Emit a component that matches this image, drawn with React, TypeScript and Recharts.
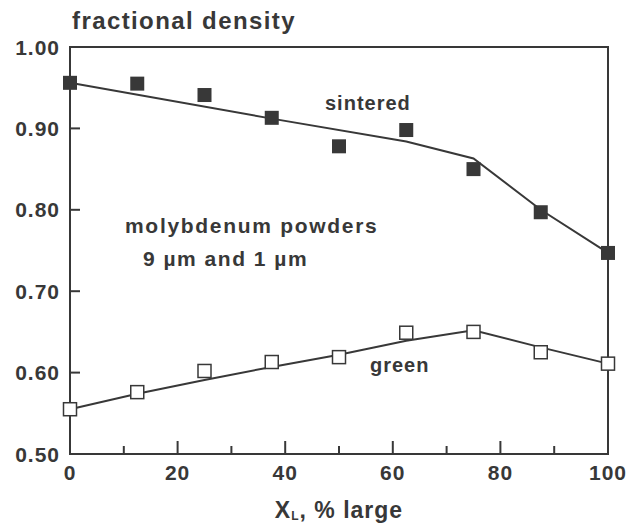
import React from 'react'
import { ComposedChart, XAxis, YAxis, Scatter, Line, ReferenceArea } from 'recharts'

// X_L, % large
const xLarge = [0, 12.5, 25, 37.5, 50, 62.5, 75, 87.5, 100]
const sinteredDensity = [0.956, 0.955, 0.941, 0.913, 0.878, 0.898, 0.85, 0.797, 0.747]
const greenDensity = [0.555, 0.576, 0.602, 0.613, 0.619, 0.649, 0.65, 0.625, 0.611]

// hand-drawn trend lines
const sinteredFitX = [0, 37.5, 62.5, 75, 87.5, 100]
const sinteredFitY = [0.956, 0.912, 0.884, 0.863, 0.8, 0.747]
const greenFitX = [0, 12.5, 25, 37.5, 50, 62.5, 75, 87.5, 100]
const greenFitY = [0.555, 0.574, 0.591, 0.607, 0.622, 0.639, 0.652, 0.631, 0.611]

const xTicks = [0, 10, 20, 30, 40, 50, 60, 70, 80, 90, 100]
const yTicks = [0.5, 0.6, 0.7, 0.8, 0.9, 1.0]

const INK = '#383838'
const FONT = '"Liberation Sans", Arial, sans-serif'

const sintered = xLarge.map((x, i) => ({ x, y: sinteredDensity[i] }))
const green = xLarge.map((x, i) => ({ x, y: greenDensity[i] }))
const sinteredFit = sinteredFitX.map((x, i) => ({ x, y: sinteredFitY[i] }))
const greenFit = greenFitX.map((x, i) => ({ x, y: greenFitY[i] }))

const textStyle = { fontFamily: FONT, fontWeight: 700, fill: INK }

// left axis: tickSize/tickMargin 0 so x sits on the axis line
const renderYTick = (props: any) => {
  const { x, y, payload } = props
  const v = payload.value
  const edge = v <= 0.5 || v >= 1.0
  return (
    <g key={`y-${v}`}>
      {!edge && <line x1={x} x2={x + 10} y1={y} y2={y} stroke={INK} strokeWidth={2} />}
      <text x={x - 10} y={y} textAnchor="end" dominantBaseline="central" fontSize={21} letterSpacing={1} {...textStyle}>
        {v.toFixed(2)}
      </text>
    </g>
  )
}

const renderXTick = (props: any) => {
  const { x, y, payload } = props
  const v = payload.value
  const major = v % 20 === 0
  const edge = v === 0 || v === 100
  return (
    <g key={`x-${v}`}>
      {!edge && <line x1={x} x2={x} y1={y} y2={y - (major ? 13 : 8)} stroke={INK} strokeWidth={2} />}
      {major && (
        <text x={x} y={y + 18} textAnchor="middle" dominantBaseline="central" fontSize={21} letterSpacing={1} {...textStyle}>
          {v}
        </text>
      )}
    </g>
  )
}

const FilledSquare = (props: any) => (
  <rect x={props.cx - 7} y={props.cy - 7} width={14} height={14} fill={INK} />
)
const OpenSquare = (props: any) => (
  <rect x={props.cx - 6.5} y={props.cy - 6.5} width={13} height={13} fill="#fff" stroke={INK} strokeWidth={1.5} />
)

export default function App() {
  return (
    <div style={{ position: 'absolute', left: 0, top: 0, width: 630, height: 529, background: '#fff' }}>
      <ComposedChart width={630} height={529} margin={{ top: 47, right: 22, bottom: 45, left: 10 }}>
        <XAxis
          type="number"
          dataKey="x"
          domain={[0, 100]}
          ticks={xTicks}
          interval={0}
          height={30}
          tickSize={0}
          tickMargin={0}
          tickLine={false}
          axisLine={{ stroke: INK, strokeWidth: 2 }}
          tick={renderXTick}
        />
        <YAxis
          type="number"
          domain={[0.5, 1.0]}
          ticks={yTicks}
          interval={0}
          width={60}
          tickSize={0}
          tickMargin={0}
          tickLine={false}
          axisLine={{ stroke: INK, strokeWidth: 2 }}
          tick={renderYTick}
        />
        <ReferenceArea x1={0} x2={100} y1={0.5} y2={1.0} fill="none" stroke={INK} strokeWidth={2} />
        <Line data={sinteredFit} dataKey="y" stroke={INK} strokeWidth={2} dot={false} isAnimationActive={false} />
        <Line data={greenFit} dataKey="y" stroke={INK} strokeWidth={2} dot={false} isAnimationActive={false} />
        <Scatter data={sintered} dataKey="y" shape={<FilledSquare />} isAnimationActive={false} />
        <Scatter data={green} dataKey="y" shape={<OpenSquare />} isAnimationActive={false} />
        <text x={72} y={20} dominantBaseline="central" fontSize={24} letterSpacing={1.4} {...textStyle}>
          fractional density
        </text>
        <text x={325} y={103} dominantBaseline="central" fontSize={20} letterSpacing={1} {...textStyle}>
          sintered
        </text>
        <text x={125} y={225} dominantBaseline="central" fontSize={21} letterSpacing={1.7} {...textStyle}>
          molybdenum powders
        </text>
        <text x={143} y={258} dominantBaseline="central" fontSize={21} letterSpacing={1.5} {...textStyle}>
          9 µm and 1 µm
        </text>
        <text x={370} y={365} dominantBaseline="central" fontSize={20} letterSpacing={1} {...textStyle}>
          green
        </text>
        <text x={339} y={510} textAnchor="middle" dominantBaseline="central" fontSize={23} letterSpacing={1} {...textStyle}>
          X<tspan fontSize={12} dy={6}>L</tspan>
          <tspan dy={-6}>, % large</tspan>
        </text>
      </ComposedChart>
    </div>
  )
}
